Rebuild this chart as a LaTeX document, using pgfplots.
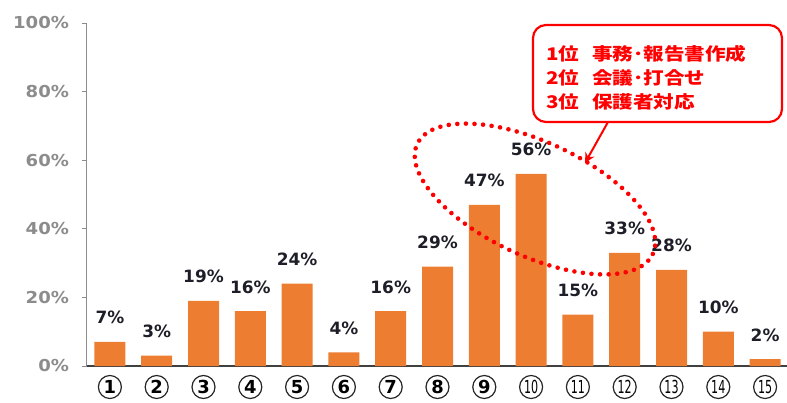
\documentclass[border=0pt]{standalone}
\usepackage{fontspec}
\usepackage{pgfplots}
\pgfplotsset{compat=1.18}
\usetikzlibrary{arrows.meta}
\setmainfont{DejaVu Sans}
\newfontfamily\jp{Noto Sans CJK JP}
\definecolor{barorange}{HTML}{ED7D31}
\definecolor{tickgray}{HTML}{8C8C8C}
\definecolor{labdark}{HTML}{1E1E28}
\definecolor{callred}{HTML}{FF0000}
\newcommand\cd[1]{\fontsize{18}{18}\selectfont\bfseries #1}
\newcommand\cdd[1]{\scalebox{0.62}[1]{\fontsize{18}{18}\selectfont #1}}
\begin{document}
\begin{tikzpicture}
\begin{axis}[
  scale only axis,
  width=702bp, height=343bp,
  at={(86.5bp,37bp)}, anchor=south west,
  xmin=0.5, xmax=15.5, ymin=0, ymax=100,
  axis x line*=bottom, axis y line*=left,
  x axis line style={color=black!75, line width=1.1pt, -},
  y axis line style={color=tickgray, line width=1pt, -},
  ytick={0,20,40,60,80,100},
  yticklabel={\scalebox{1.1}[1]{\pgfmathprintnumber{\tick}\%}},
  yticklabel style={font=\fontsize{16.5}{16.5}\selectfont\bfseries, text=tickgray, anchor=east, xshift=-9bp},
  ytick style={color=tickgray, line width=0.8pt},
  major tick length=5bp,
  tick align=outside,
  xtick={1,...,15},
  xticklabels={\cd{1},\cd{2},\cd{3},\cd{4},\cd{5},\cd{6},\cd{7},\cd{8},\cd{9},\cdd{10},\cdd{11},\cdd{12},\cdd{13},\cdd{14},\cdd{15}},
  xticklabel style={circle, draw=black!85, line width=1.2bp, inner sep=0pt, minimum size=23bp, text=black, anchor=center, yshift=-16bp},
  xtick style={draw=none},
  minor xtick={0.5,1.5,...,15.5},
  minor x tick style={color=black!75, line width=1pt},
  minor tick length=6bp,
  /pgf/number format/assume math mode=true,
  clip=false,
]
\addplot[ybar, bar width=31bp, fill=barorange, draw=none,
  nodes near coords={\pgfmathprintnumber{\pgfplotspointmeta}\%},
  nodes near coords style={font=\fontsize{17}{17}\selectfont\bfseries, text=labdark, anchor=base, yshift=18bp, inner sep=0pt},
] coordinates {
(1,7) (2,3) (3,19) (4,16) (5,24) (6,4) (7,16) (8,29) (9,47) (10,56) (11,15) (12,33) (13,28) (14,10) (15,2)
};
\end{axis}
% dotted ellipse
\draw[callred, line width=4.6bp, line cap=round, dash pattern=on 0bp off 8.6bp, rotate around={-25:(535bp,204bp)}]
  (535bp,204bp) ellipse [x radius=130bp, y radius=57bp];
% callout
\draw[callred, line width=2.2bp, rounded corners=13bp, fill=white] (533bp,281bp) rectangle (782bp,378bp);
\draw[callred, line width=2bp, -{Stealth[length=10bp,width=10bp]}] (608bp,281bp) -- (585bp,240bp);
\node[anchor=west, align=left, text=callred, font=\jp\bfseries\fontsize{17.5}{24}\selectfont, inner sep=0pt] at (546bp,325bp)
  {\scalebox{1.18}[1]{1位\hspace{11bp}事務･報告書作成}\\\scalebox{1.18}[1]{2位\hspace{11bp}会議･打合せ}\\\scalebox{1.18}[1]{3位\hspace{11bp}保護者対応}};
\pgfresetboundingbox
\path[use as bounding box] (0,0) rectangle (787bp,403bp);
\end{tikzpicture}
\end{document}
